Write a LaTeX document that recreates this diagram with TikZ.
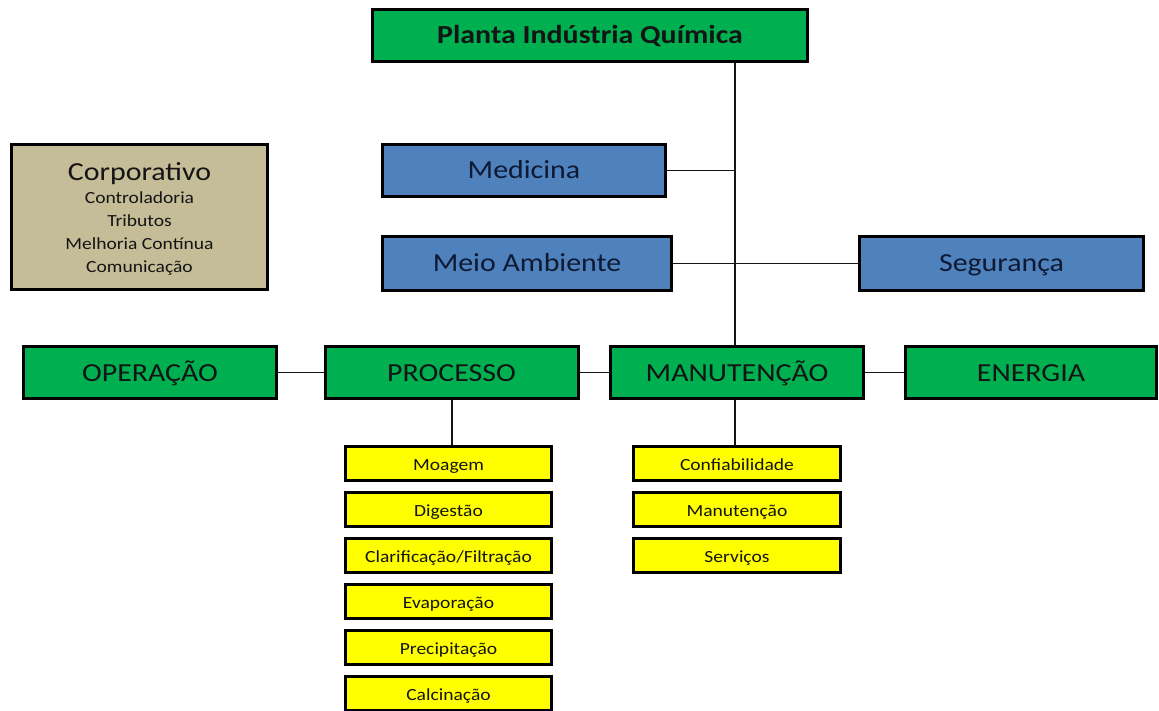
\documentclass[tikz,border=0pt]{standalone}
\usepackage{fontspec}
\setmainfont{Carlito}[FakeStretch=1.15]
\newfontfamily\boldface{Carlito}[FakeStretch=1.15,UprightFont=* Bold]
\definecolor{boxgreen}{HTML}{00B050}
\definecolor{boxblue}{HTML}{4F81BD}
\definecolor{boxtan}{HTML}{C4BD97}
\definecolor{boxyellow}{HTML}{FFFF00}
\definecolor{ink}{HTML}{141414}
\definecolor{navyink}{HTML}{0E1A33}
\newcommand{\titlesize}{\fontsize{26}{30}\selectfont}
\newcommand{\listsize}{\fontsize{17}{23}\selectfont}
\tikzset{
  card/.style={draw=black, line width=3pt, inner sep=0pt, align=center, text=ink},
  headbox/.style={card, fill=boxgreen, text height=17pt, text depth=0pt,
    font=\boldface\fontsize{26}{30}\selectfont},
  deptbox/.style={card, fill=boxgreen, minimum width=253pt, minimum height=52pt,
    text height=17pt, text depth=0pt, font=\fontsize{26}{30}\selectfont},
  staffbox/.style={card, fill=boxblue, text=navyink, minimum height=54pt,
    text height=17pt, text depth=0pt, font=\fontsize{26}{30}\selectfont},
  unitbox/.style={card, fill=boxyellow, minimum width=206pt, minimum height=34pt,
    text height=14pt, text depth=0pt, font=\fontsize{17}{20}\selectfont},
  link/.style={draw=ink, line width=1.2pt}
}
\begin{document}
\begin{tikzpicture}[x=1pt,y=-1pt]
\useasboundingbox (0,0) rectangle (1159,711);
\clip (0,0) rectangle (1159,711);

% top of the hierarchy
\node[headbox, minimum width=435pt, minimum height=52pt] (planta) at (590,35.5) {Planta Indústria Química};

% corporate functions
\node[card, fill=boxtan, minimum width=256pt, minimum height=145pt] (corp) at (139.5,217) {};
\node[inner sep=0pt, text=ink] (corptext) at ([yshift=-4pt]corp.center)
  {\listsize\begin{tabular}{@{}c@{}}
     {\titlesize Corporativo}\\
     Controladoria\\
     Tributos\\
     Melhoria Contínua\\
     Comunicação
   \end{tabular}};

% staff areas
\node[staffbox, minimum width=283pt, minimum height=52pt] (med) at (524,170.5) {Medicina};
\node[staffbox, minimum width=289pt] (meio) at (527,263.5) {Meio Ambiente};
\node[staffbox, minimum width=284pt] (seg) at (1001.5,263.5) {Segurança};

% departments
\node[deptbox] (oper) at (150,372.5) {OPERAÇÃO};
\node[deptbox] (proc) at (451.5,372.5) {PROCESSO};
\node[deptbox] (manu) at (737,372.5) {MANUTENÇÃO};
\node[deptbox, minimum width=251pt] (ener) at (1031,372.5) {ENERGIA};

% process units
\node[unitbox] (p1) at (448.5,463.5) {Moagem};
\node[unitbox] (p2) at (448.5,509.5) {Digestão};
\node[unitbox] (p3) at (448.5,555.5) {Clarificação/Filtração};
\node[unitbox] (p4) at (448.5,601.5) {Evaporação};
\node[unitbox] (p5) at (448.5,647.5) {Precipitação};
\node[unitbox] (p6) at (448.5,693.5) {Calcinação};

% maintenance units
\node[unitbox, minimum width=207pt] (m1) at (737,463.5) {Confiabilidade};
\node[unitbox, minimum width=207pt] (m2) at (737,509.5) {Manutenção};
\node[unitbox, minimum width=207pt] (m3) at (737,555.5) {Serviços};

% connectors
\coordinate (trunk) at (735,63);
\coordinate (proctap) at (452,400);
\draw[link] (planta.south -| trunk) -- (manu.north -| trunk);
\draw[link] (med.east) -- (med.east -| trunk);
\draw[link] (meio.east) -- (seg.west);
\draw[link] (oper.east) -- (proc.west);
\draw[link] (proc.east) -- (manu.west);
\draw[link] (manu.east) -- (ener.west);
\draw[link] (proc.south -| proctap) -- (p1.north -| proctap);
\draw[link] (manu.south -| trunk) -- (m1.north -| trunk);
\end{tikzpicture}
\end{document}
